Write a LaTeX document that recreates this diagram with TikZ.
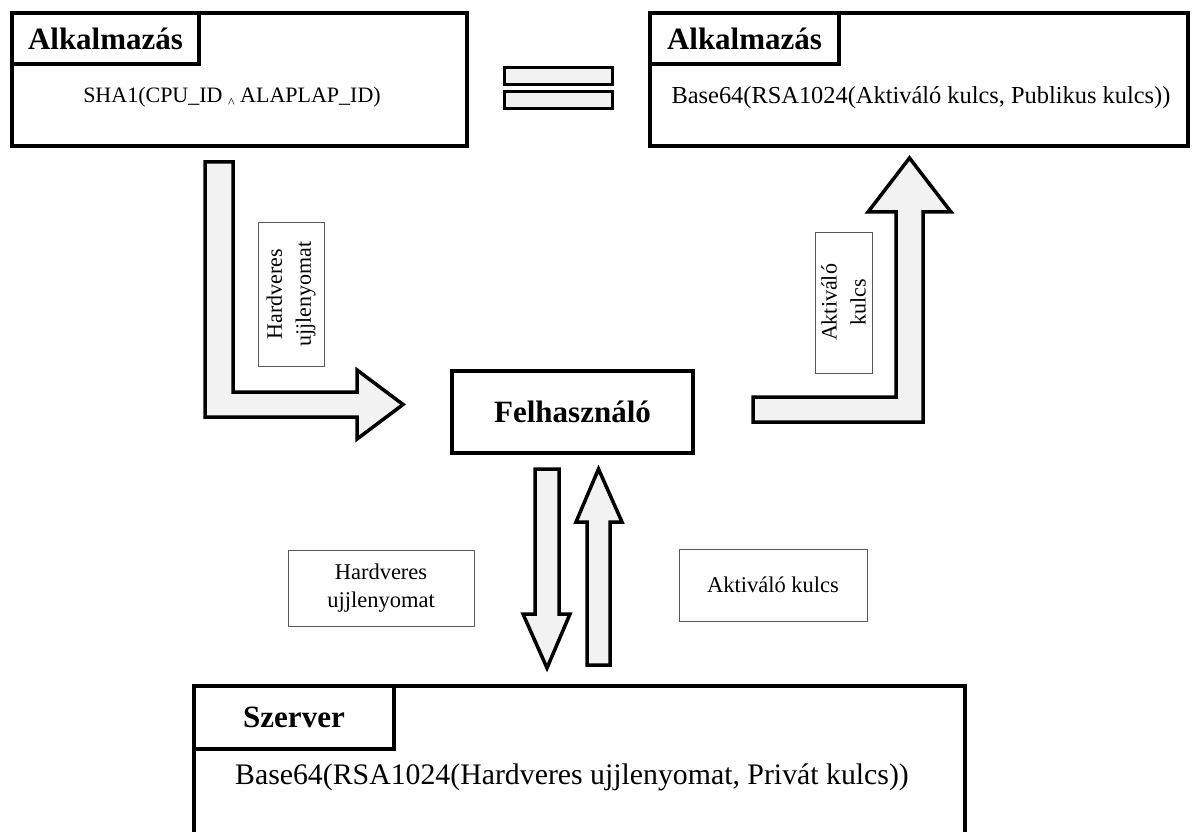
\documentclass[tikz,border=0pt]{standalone}
\usepackage{fontspec}
\setmainfont{Liberation Serif}
\definecolor{arrowfill}{HTML}{F2F2F2}
\newcommand\tinycaret{\raisebox{-5pt}{\fontsize{14}{14}\selectfont\textasciicircum}}
\tikzset{
  frame/.style={draw=black, line width=4pt, inner sep=0pt},
  titlebox/.style={frame, anchor=north west, font=\fontsize{31}{34}\selectfont\bfseries},
  bodytext/.style={inner sep=0pt, font=\fontsize{22}{26}\selectfont},
  bigtext/.style={inner sep=0pt, font=\fontsize{29.8}{34}\selectfont},
  blockarrow/.style={draw=black, line width=3.5pt, fill=arrowfill, line join=miter},
  eqbar/.style={draw=black, line width=3pt, fill=arrowfill, inner sep=0pt, anchor=north west, minimum width=108pt, minimum height=17pt},
  lbl/.style={draw=black!65, line width=1pt, fill=white, align=center, inner sep=0pt, font=\fontsize{22.5}{28}\selectfont}
}
\begin{document}
\begin{tikzpicture}[x=1pt,y=-1pt]
\useasboundingbox (0,0) rectangle (1195,832);
\clip (0,0) rectangle (1195,832);

% left application box
\node[frame, anchor=north west, minimum width=455pt, minimum height=133pt] (app1) at (10,11) {};
\node[titlebox, minimum width=187pt, minimum height=51pt] (app1t) at (app1.north west) {Alkalmazás};
\node[bodytext] (hash) at (232,97) {SHA1(CPU\_ID \tinycaret{} ALAPLAP\_ID)};

% equality sign
\node[eqbar] (eq1) at (503,66) {};
\node[eqbar] (eq2) at (503,90) {};

% right application box
\node[frame, anchor=north west, minimum width=538pt, minimum height=133pt] (app2) at (648,11) {};
\node[titlebox, minimum width=189pt, minimum height=51pt] (app2t) at (app2.north west) {Alkalmazás};
\node[bodytext, font=\fontsize{24.4}{28}\selectfont] (check) at (921,98) {Base64(RSA1024(Aktiváló kulcs, Publikus kulcs))};

% user
\node[frame, minimum width=241pt, minimum height=82pt, font=\fontsize{31}{34}\selectfont\bfseries] (user) at (572.5,412) {Felhasználó};

% server
\node[frame, anchor=north west, minimum width=771pt, minimum height=200pt] (server) at (192,684) {};
\node[titlebox, minimum width=200pt, minimum height=63pt] (servert) at (server.north west) {Szerver};
\node[bigtext] (sign) at (572,777) {Base64(RSA1024(Hardveres ujjlenyomat, Privát kulcs))};

% block arrows
\draw[blockarrow] (205,162) -- (233,162) -- (233,392) -- (357,392) -- (357,370) -- (403,404.5) -- (357,439) -- (357,417) -- (205,417) -- cycle;
\draw[blockarrow] (753,397) -- (896,397) -- (896,212) -- (868,212) -- (909.5,158) -- (951,212) -- (923,212) -- (923,422) -- (753,422) -- cycle;
\draw[blockarrow] (535,469) -- (559,469) -- (559,614) -- (570,614) -- (547,668) -- (523,614) -- (535,614) -- cycle;
\draw[blockarrow] (587,665) -- (610,665) -- (610,522) -- (622,522) -- (598.5,469) -- (576,522) -- (587,522) -- cycle;

% labels
\node[lbl, rotate=90, minimum width=144pt, minimum height=66pt, font=\fontsize{22}{29}\selectfont] (lhwv) at (291,294) {Hardveres\\ujjlenyomat};
\node[lbl, rotate=90, minimum width=141pt, minimum height=57pt, font=\fontsize{22}{29}\selectfont] (lakv) at (843.5,302.5) {Aktiváló\\kulcs};
\node[lbl, minimum width=186pt, minimum height=76pt] (lhw) at (381,588) {Hardveres\\ujjlenyomat};
\node[lbl, minimum width=188pt, minimum height=72pt] (lak) at (773,585) {Aktiváló kulcs};
\end{tikzpicture}
\end{document}
